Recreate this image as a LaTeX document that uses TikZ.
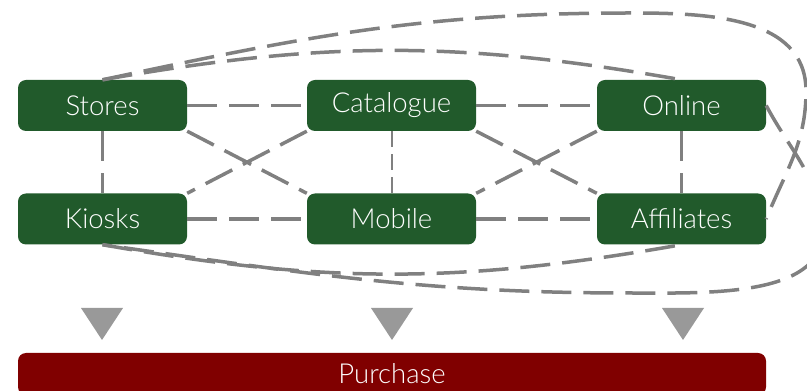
\documentclass[tikz,border=0pt]{standalone}
\usepackage{fontspec}
\setmainfont{Lato}[UprightFont={* Light}]
\usepackage{xcolor}
\definecolor{channelgreen}{RGB}{33,90,43}
\definecolor{purchasered}{RGB}{128,0,0}
\definecolor{linkgray}{RGB}{128,128,128}
\definecolor{dropgray}{RGB}{153,153,153}

\begin{document}
\begin{tikzpicture}[x=1pt,y=1pt,
	channel/.style={rectangle,
		rounded corners=8pt,
		fill=channelgreen,
		text=white,
		minimum width=169pt,
		minimum height=51pt,
		inner sep=0pt,
		font=\fontsize{27.5}{32}\selectfont},
	link/.style={draw=linkgray, line width=3.5pt, dash pattern=on 30pt off 12pt},
	thinlink/.style={draw=linkgray, line width=2pt, dash pattern=on 16pt off 7pt}]
	\useasboundingbox (0,0) rectangle (807,391);
	\clip (0,0) rectangle (807,391);

	% the six channels
	\node[channel] (stores) at (102.5,285.5) {Stores};
	\node[channel] (catalogue) at (391.5,285.5) {Catalogue};
	\node[channel] (online) at (681.5,285.5) {Online};
	\node[channel] (kiosks) at (102.5,172) {Kiosks};
	\node[channel] (mobile) at (391.5,172) {Mobile};
	\node[channel] (affiliates) at (681.5,172) {Affiliates};

	% turning points of the long loops
	\coordinate (topbend) at (630,378);
	\coordinate (rightbend) at (806,300);
	\coordinate (outbend) at (822,172);
	\coordinate (lowbend) at (630,98);

	% straight links
	\draw[link] (stores) -- (catalogue);
	\draw[link] (catalogue) -- (online);
	\draw[link] (kiosks) -- (mobile);
	\draw[link] (mobile) -- (affiliates);
	\draw[link] (stores) -- (kiosks);
	\draw[thinlink] (catalogue) -- (mobile);
	\draw[link] (online) -- (affiliates);
	\draw[link] (stores.south east) -- (mobile.north west);
	\draw[link] (catalogue.south west) -- (kiosks.north east);
	\draw[link] (catalogue.south east) -- (affiliates.north west);
	\draw[link] (online.south west) -- (mobile.north east);

	% curved links
	\draw[link] (stores.north) to[out=10,in=170] (online.north);
	\draw[link] (kiosks.south) to[out=-10,in=-170] (affiliates.south);
	\draw[link] (stores.north) to[out=12,in=180] (topbend)
		to[out=0,in=90] (rightbend) to[out=-90,in=68] (affiliates.east);
	\draw[link] (online.east) to[out=-62,in=100] (outbend)
		to[out=-80,in=0] (lowbend) to[out=180,in=-8] (kiosks.south);

	% drop markers
	\foreach \x in {102,392,683}
		\fill[dropgray] (\x-21,83) -- (\x+21,83) -- (\x,51) -- cycle;

	% purchase bar
	\node[rectangle,
		rounded corners=8pt,
		fill=purchasered,
		text=white,
		minimum width=748pt,
		minimum height=42pt,
		inner sep=0pt,
		font=\fontsize{27.5}{32}\selectfont] (purchase) at (392,17) {Purchase};
\end{tikzpicture}
\end{document}
